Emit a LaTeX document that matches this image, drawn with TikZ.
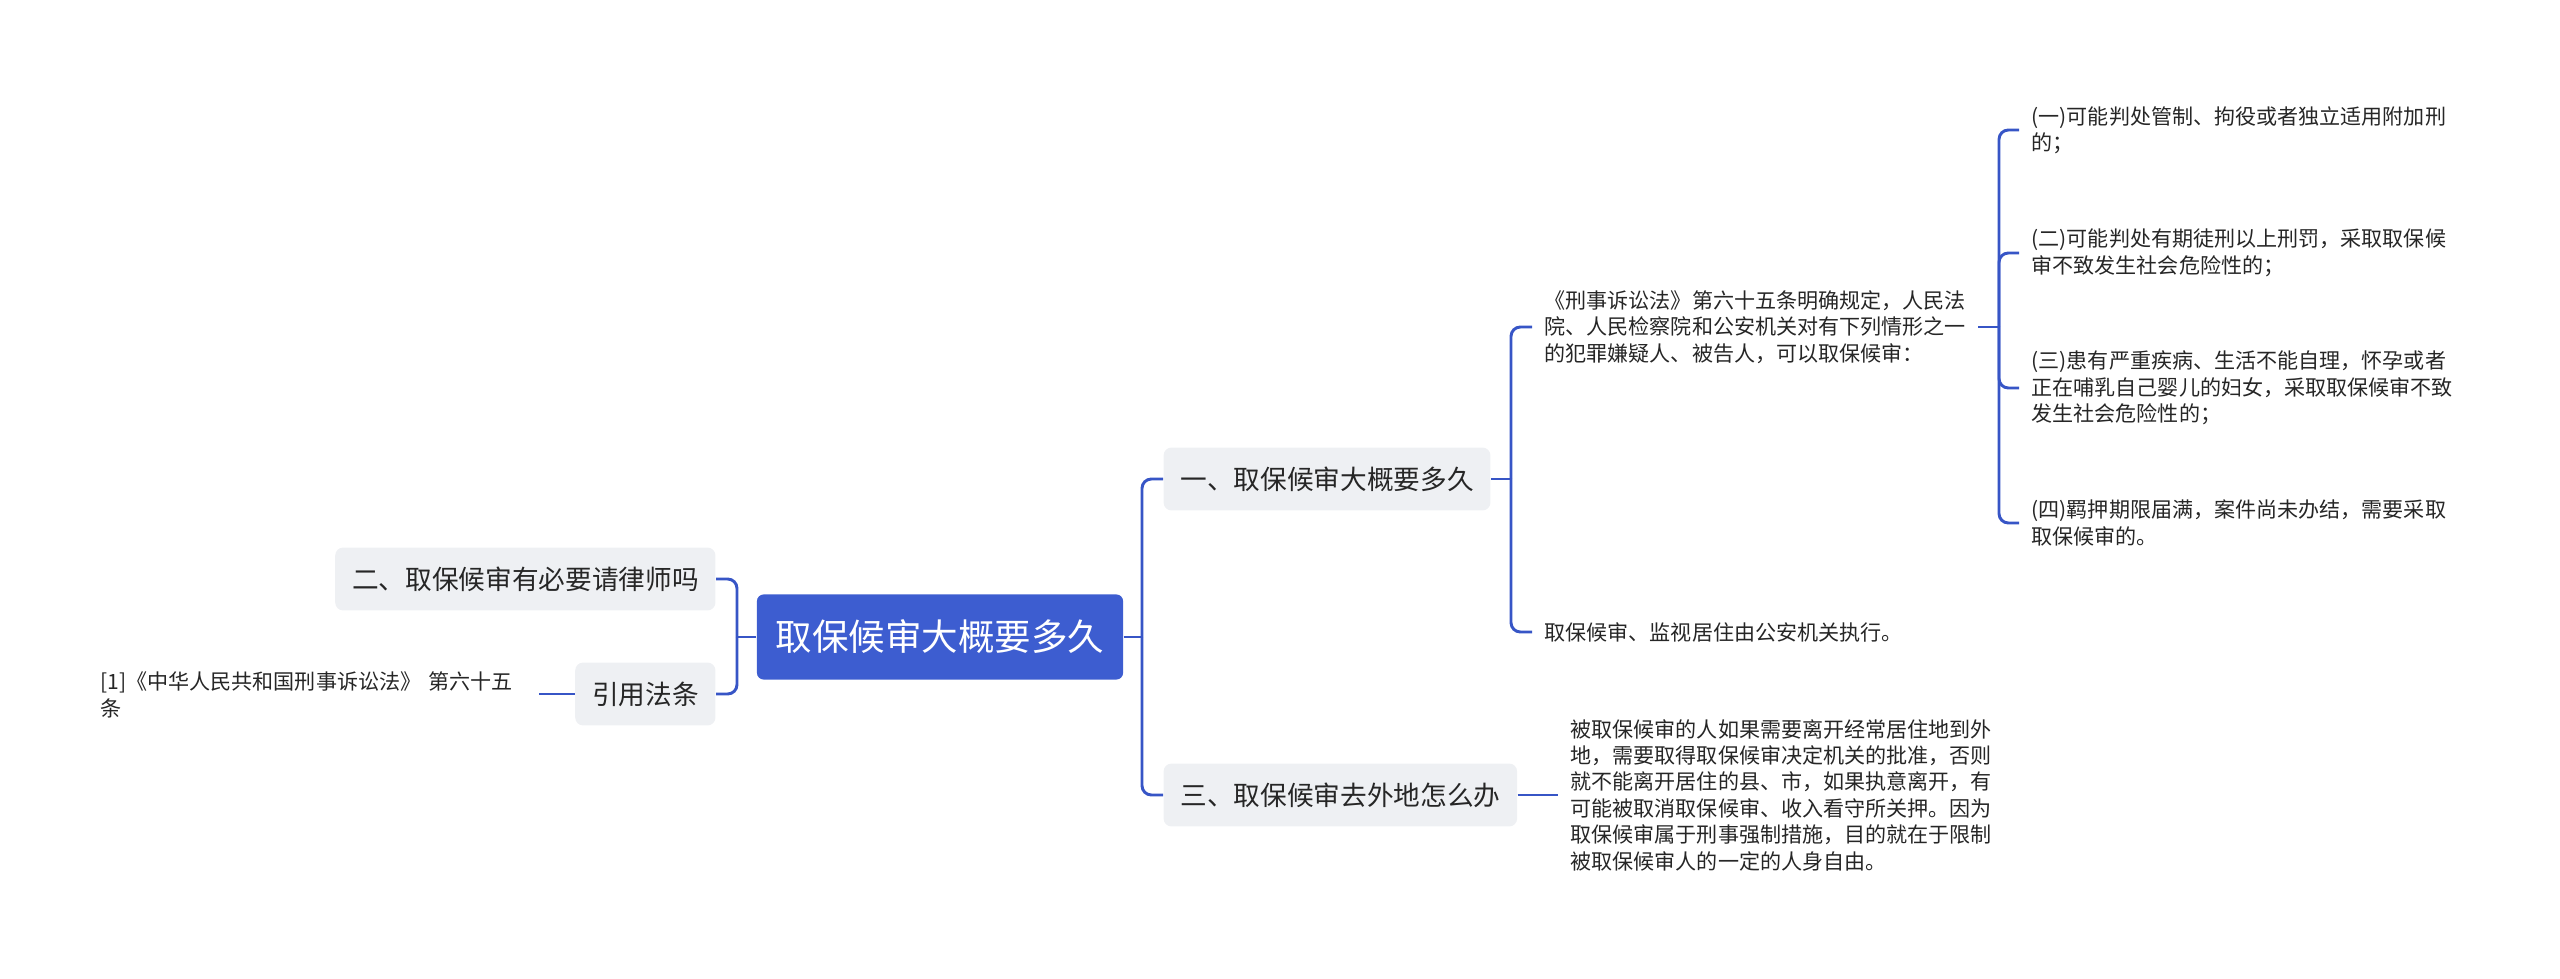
\documentclass[tikz,border=0pt]{standalone}
\usepackage{fontspec}
\setmainfont{Noto Sans CJK SC}
\definecolor{lineblue}{RGB}{55,85,198}
\definecolor{rootblue}{RGB}{61,93,208}
\definecolor{topicgray}{RGB}{238,240,243}
\definecolor{textdark}{RGB}{38,38,38}
\begin{document}
\begin{tikzpicture}[x=0.375pt,y=-0.375pt,
  conn/.style={draw=lineblue, line width=1.1pt, rounded corners=3.5pt},
  topic/.style={fill=topicgray, rounded corners=3pt, text=textdark, font=\fontsize{10}{12}\selectfont, inner xsep=6.3pt, inner ysep=0pt, minimum height=23.6pt},
  root/.style={fill=rootblue, rounded corners=2.5pt, text=white, font=\fontsize{13.7}{16}\selectfont, inner xsep=7pt, inner ysep=0pt, minimum height=31.9pt},
  leaf/.style={text=textdark, font=\fontsize{7.9}{9.9}\selectfont, align=left, inner xsep=4.5pt, inner ysep=1pt},
]
\useasboundingbox (0,0) rectangle (2560,979);

% root
\node[root] (c) at (940,637) {取保候审大概要多久};

% right topics
\node[topic, anchor=west] (n1) at (1163,479) {一、取保候审大概要多久};
\node[topic, anchor=west] (n3) at (1163,795) {三、取保候审去外地怎么办};

% left topics
\node[topic, anchor=east] (n2) at (716,579) {二、取保候审有必要请律师吗};
\node[topic, anchor=east] (cite) at (716,694) {引用法条};

% leaves of n1
\node[leaf, anchor=west] (l1) at (1532,327) {《刑事诉讼法》第六十五条明确规定，人民法\\院、人民检察院和公安机关对有下列情形之一\\的犯罪嫌疑人、被告人，可以取保候审：};
\node[leaf, anchor=west] (l2) at (1532,632) {取保候审、监视居住由公安机关执行。};

% sub-leaves of l1
\node[leaf, anchor=west] (s1) at (2019,130) {(一)可能判处管制、拘役或者独立适用附加刑\\的；};
\node[leaf, anchor=west] (s2) at (2019,253) {(二)可能判处有期徒刑以上刑罚，采取取保候\\审不致发生社会危险性的；};
\node[leaf, anchor=west] (s3) at (2019,388) {(三)患有严重疾病、生活不能自理，怀孕或者\\正在哺乳自己婴儿的妇女，采取取保候审不致\\发生社会危险性的；};
\node[leaf, anchor=west] (s4) at (2019,523) {(四)羁押期限届满，案件尚未办结，需要采取\\取保候审的。};

% leaf of n3
\node[leaf, anchor=west] (l3) at (1558,795) {被取保候审的人如果需要离开经常居住地到外\\地，需要取得取保候审决定机关的批准，否则\\就不能离开居住的县、市，如果执意离开，有\\可能被取消取保候审、收入看守所关押。因为\\取保候审属于刑事强制措施，目的就在于限制\\被取保候审人的一定的人身自由。};

% citation leaf
\node[leaf, anchor=east, inner xsep=0pt, text width=164.25pt] (ref) at (539,695) {[1]《中华人民共和国刑事诉讼法》 第六十五\\条};

% junctions
\coordinate (jr) at (1142,637);
\coordinate (jl) at (737,637);
\coordinate (j1) at (1511,479);
\coordinate (j2) at (1999,327);

% connectors
\draw[conn] (c.east) -- (jr);
\draw[conn] (jr) |- (n1.west);
\draw[conn] (jr) |- (n3.west);

\draw[conn] (c.west) -- (jl);
\draw[conn] (jl) |- (n2.east);
\draw[conn] (jl) |- (cite.east);
\draw[conn] (cite.west) -- (ref.east |- cite.west);

\draw[conn] (n1.east) -- (j1);
\draw[conn] (j1) |- (l1.west);
\draw[conn] (j1) |- (l2.west);

\draw[conn] (l1.east |- j2) -- (j2);
\draw[conn] (j2) |- (s1.west);
\draw[conn] (j2) |- (s2.west);
\draw[conn] (j2) |- (s3.west);
\draw[conn] (j2) |- (s4.west);

\draw[conn] (n3.east) -- (l3.west);
\end{tikzpicture}
\end{document}
